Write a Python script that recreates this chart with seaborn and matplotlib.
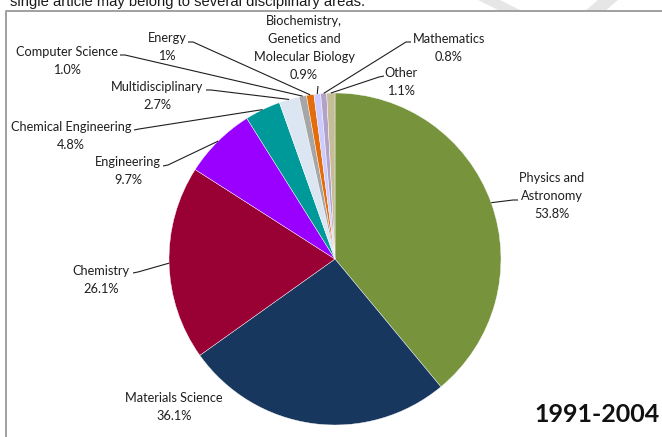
import numpy as np
import matplotlib
matplotlib.use("Agg")
import matplotlib.pyplot as plt
from matplotlib.patches import Polygon
import seaborn as sns

# Share of articles by subject area, 1991-2004 (an article may count in several areas)
areas = ["Physics and\nAstronomy", "Materials Science", "Chemistry", "Engineering",
         "Chemical Engineering", "Multidisciplinary", "Computer Science", "Energy",
         "Biochemistry,\nGenetics and\nMolecular Biology", "Mathematics", "Other"]
shares = [53.8, 36.1, 26.1, 9.7, 4.8, 2.7, 1.0, 1.0, 0.9, 0.8, 1.1]
share_labels = ["53.8%", "36.1%", "26.1%", "9.7%", "4.8%", "2.7%", "1.0%", "1%",
                "0.9%", "0.8%", "1.1%"]
colors = ["#77933C", "#17375E", "#990033", "#9900FF", "#009999", "#DCE6F2",
          "#A6A6A6", "#E46C0A", "#CCCCFF", "#B3A2C7", "#C4BD97"]
period = "1991-2004"

sns.set_theme(style="white")
plt.rcParams["font.family"] = ["Lato", "DejaVu Sans"]

W, H = 662, 437
fig = plt.figure(figsize=(W / 100, H / 100), dpi=100)
ax = fig.add_axes([0, 0, 1, 1])


def up(y):
    """Convert a top-down pixel row into the axes' bottom-up coordinate."""
    return H - y


cx, cy, r = 335, up(259), 166
wedges, _ = ax.pie(shares, colors=sns.color_palette(colors), startangle=90,
                   counterclock=False, center=(cx, cy), radius=r,
                   wedgeprops=dict(edgecolor="white", linewidth=0.3),
                   frame=True)
ax.set_xlim(0, W)
ax.set_ylim(0, H)
ax.set_aspect("equal")
ax.axis("off")

# label block centres (x, y-from-top) and leader anchors near each label
label_pos = [(552, 196), (174, 407), (101, 280), (128, 171), (71, 136), (157, 96),
             (67, 61), (167, 47), (304, 48), (449, 48), (401, 82)]
leaders = [[(518, 200), (513, 200)], None, [(133, 273), (138, 272)],
           [(163, 166), (168, 165)], [(134, 130), (139, 129)],
           [(206, 90), (211, 90)], [(120, 55), (125, 55)],
           [(188, 42), (193, 42)], [(318, 86)], [(411, 42), (406, 42)],
           [(384, 76), (379, 77)]]

for w, name, pct, (lx, ly), lead in zip(wedges, areas, share_labels, label_pos, leaders):
    ax.text(lx, up(ly), f"{name}\n{pct}", ha="center", va="center",
            fontsize=9.2, color="#1f1f1f", linespacing=1.6)
    if lead is None:
        continue
    mid = np.deg2rad((w.theta1 + w.theta2) / 2)
    px, py = cx + r * np.cos(mid), cy + r * np.sin(mid)
    xs = [p[0] for p in lead] + [px]
    ys = [up(p[1]) for p in lead] + [py]
    ax.plot(xs, ys, color="#1f1f1f", lw=0.8, solid_capstyle="butt")

ax.text(660, up(414), period, ha="right", va="center", fontsize=18,
        fontweight="bold", color="#111111")

# chart frame and surrounding page
ax.plot([6, 6, W + 5], [-5, up(11), up(11)], color="#A0A0A0", lw=1.4)
for poly in ([(478, 0), (500, 0), (522, 11), (500, 11)],
             [(585, 11), (605, 11), (618, 0), (598, 0)]):
    ax.add_patch(Polygon([(x, up(y)) for x, y in poly], closed=True,
                         facecolor="#E6E6E6", edgecolor="none"))
ax.text(10, up(6), "single article may belong to several disciplinary areas.",
        ha="left", va="baseline", fontsize=10.6, color="#1a1a1a",
        family=["Liberation Sans", "DejaVu Sans"])

fig.savefig("out.png", dpi=100)
